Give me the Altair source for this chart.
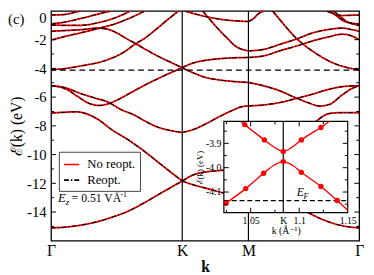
import altair as alt
import pandas as pd

FONT = "Liberation Serif, Tinos, Times New Roman, DejaVu Serif, serif"

# ---------------- main panel: path Γ-K-M-Γ (k, 1/Å) and energies (eV)
K_POS = 1.09
M_POS = 1.64
PATH_END = 2.56
X_TICK_POS = [0.0, K_POS, M_POS, PATH_END]
X_TICK_LABELS = ["Γ", "K", "M", "Γ"]
E_DOMAIN = [-16, 0]
Y_TICK_LABELED = [0, -2, -4, -6, -8, -10, -12, -14]
Y_TICK_MAJOR = [-2, -4, -6, -8, -10, -12, -14]
Y_TICK_MINOR = [-1, -3, -5, -7, -9, -11, -13, -15]
E_FERMI = -4.12
SERIES = ["No reopt.", "Reopt."]
PANEL_LABEL = "(c)"

# Γ-K segment
GK_LOW_K = [0, 0.12, 0.24, 0.38, 0.51, 0.65, 0.78, 0.93, 1.09]
GK_LOW_E = [-15.10, -15.05, -14.92, -14.68, -14.35, -13.9, -13.33, -12.6, -11.84]
GK_S7_K = [0, 0.1, 0.2, 0.28, 0.38, 0.51, 0.65, 0.78, 0.93, 1.09]
GK_S7_E = [-7.10, -7.06, -7.02, -7.12, -7.5, -8.3, -9.02, -9.8, -10.8, -11.84]
GK_S5A_K = [0, 0.12, 0.24, 0.36, 0.46, 0.59, 0.68, 0.78, 0.86, 0.98, 1.09]
GK_S5A_E = [-5.21, -5.35, -5.73, -6.05, -6.3, -6.9, -7.2, -7.66, -8.0, -8.3, -8.46]
GK_S5B_K = [0, 0.07, 0.13, 0.22, 0.32, 0.40, 0.46, 0.55, 0.65, 0.78, 0.93, 1.09]
GK_S5B_E = [-5.21, -5.28, -5.46, -5.95, -6.45, -6.58, -6.5, -6.2, -5.75, -5.16, -4.55, -3.95]
GK_A_K = [0, 0.1, 0.2, 0.3, 0.39, 0.5, 0.6, 0.7, 0.77, 0.87, 0.97, 1.06]
GK_A_E = [-4.08, -4.03, -3.9, -3.75, -3.6, -3.3, -2.9, -2.3, -1.95, -1.3, -0.6, 0]
GK_B_K = [0, 0.13, 0.26, 0.38, 0.46, 0.55, 0.62, 0.70, 0.8, 0.9, 1.0, 1.09]
GK_B_E = [-1.42, -1.36, -1.3, -1.2, -1.25, -1.55, -1.9, -2.26, -2.75, -3.2, -3.6, -3.95]
GK_T5_K = [0, 0.13, 0.26, 0.4, 0.55, 0.68, 0.78]
GK_T5_E = [-2.03, -1.75, -1.5, -1.2, -0.85, -0.4, 0]
GK_T1_K = [0, 0.08, 0.15, 0.21, 0.25]
GK_T1_E = [-0.28, -0.27, -0.19, -0.07, 0]
GK_T2_K = [0, 0.1, 0.25, 0.4, 0.5]
GK_T2_E = [-0.9, -0.8, -0.52, -0.2, 0]
GK_T3_K = [0, 0.1, 0.25, 0.4, 0.55, 0.66]
GK_T3_E = [-0.97, -1.0, -1.0, -0.8, -0.42, 0]

# K-M segment
KM_T1_K = [1.11, 1.2, 1.29, 1.37, 1.45, 1.55, 1.64]
KM_T1_E = [0, -0.22, -0.4, -0.53, -0.63, -0.7, -0.74]
KM_T2_K = [1.26, 1.32, 1.395, 1.47, 1.53, 1.59, 1.64]
KM_T2_E = [0, -0.6, -1.31, -1.95, -2.44, -2.68, -2.78]
KM_UP_K = [1.09, 1.15, 1.2, 1.29, 1.37, 1.5, 1.64]
KM_UP_E = [-3.95, -3.72, -3.58, -3.43, -3.35, -3.27, -3.24]
KM_DN_K = [1.09, 1.15, 1.2, 1.27, 1.37, 1.5, 1.64]
KM_DN_E = [-3.95, -4.2, -4.37, -4.6, -4.77, -4.9, -4.98]
KM_S8_K = [1.09, 1.2, 1.3, 1.4, 1.5, 1.58, 1.64]
KM_S8_E = [-8.46, -8.2, -7.8, -7.35, -6.95, -6.68, -6.61]
KM_S11_K = [1.09, 1.2, 1.37, 1.45, 1.55, 1.64]
KM_S11_E = [-11.84, -11.36, -11.13, -11.08, -11.05, -11.05]
KM_S12_K = [1.09, 1.2, 1.3, 1.4, 1.5, 1.64]
KM_S12_E = [-11.84, -12.15, -12.37, -12.6, -12.8, -12.9]

# M-Γ segment
MG_T0_K = [1.64, 1.68, 1.72, 1.77]
MG_T0_E = [-0.74, -0.55, -0.22, 0]
MG_A_K = [1.84, 1.9, 1.96, 2.02, 2.1, 2.2, 2.3, 2.4, 2.48, 2.56]
MG_A_E = [0, -0.6, -1.2, -1.75, -2.35, -2.95, -3.45, -3.8, -3.98, -4.08]
MG_P_K = [1.64, 1.77, 1.9, 2.04, 2.17, 2.3, 2.42, 2.5, 2.56]
MG_P_E = [-2.78, -2.67, -2.33, -1.95, -1.54, -1.3, -1.2, -1.3, -1.42]
MG_Q_K = [1.64, 1.77, 1.9, 2.04, 2.17, 2.31, 2.42, 2.5, 2.56]
MG_Q_E = [-3.24, -3.12, -2.78, -2.44, -2.1, -1.8, -1.62, -1.75, -2.0]
MG_T1_K = [2.29, 2.35, 2.42, 2.5, 2.56]
MG_T1_E = [0, -0.2, -0.32, -0.3, -0.28]
MG_T2_K = [2.32, 2.38, 2.43, 2.5, 2.56]
MG_T2_E = [0, -0.4, -0.7, -0.85, -0.9]
MG_T3_K = [2.35, 2.41, 2.47, 2.52, 2.56]
MG_T3_E = [0, -0.45, -0.8, -0.93, -0.97]
MG_C_K = [1.64, 1.76, 1.88, 2.04, 2.14, 2.23, 2.31, 2.42, 2.5, 2.56]
MG_C_E = [-4.98, -5.2, -5.5, -6.07, -6.4, -6.62, -6.52, -5.84, -5.4, -5.21]
MG_D_K = [1.64, 1.76, 1.88, 2.05, 2.17, 2.29, 2.42, 2.5, 2.56]
MG_D_E = [-6.61, -6.55, -6.41, -6.07, -5.8, -5.5, -5.27, -5.22, -5.21]
MG_S7_K = [1.64, 1.85, 2.0, 2.1, 2.207, 2.25, 2.289, 2.35, 2.42, 2.5, 2.56]
MG_S7_E = [-10.4, -9.8, -9.0, -8.3, -7.66, -7.38, -7.2, -7.1, -7.08, -7.08, -7.1]
MG_LOW_K = [1.64, 1.9, 2.1, 2.25, 2.35, 2.45, 2.56]
MG_LOW_E = [-12.9, -13.3, -13.9, -14.5, -14.8, -15.0, -15.1]

BANDS = [
    ("gk_low", GK_LOW_K, GK_LOW_E), ("gk_s7", GK_S7_K, GK_S7_E),
    ("gk_s5a", GK_S5A_K, GK_S5A_E), ("gk_s5b", GK_S5B_K, GK_S5B_E),
    ("gk_a", GK_A_K, GK_A_E), ("gk_b", GK_B_K, GK_B_E),
    ("gk_t5", GK_T5_K, GK_T5_E), ("gk_t1", GK_T1_K, GK_T1_E),
    ("gk_t2", GK_T2_K, GK_T2_E), ("gk_t3", GK_T3_K, GK_T3_E),
    ("km_t1", KM_T1_K, KM_T1_E), ("km_t2", KM_T2_K, KM_T2_E),
    ("km_up", KM_UP_K, KM_UP_E), ("km_dn", KM_DN_K, KM_DN_E),
    ("km_s8", KM_S8_K, KM_S8_E), ("km_s11", KM_S11_K, KM_S11_E),
    ("km_s12", KM_S12_K, KM_S12_E),
    ("mg_t0", MG_T0_K, MG_T0_E), ("mg_a", MG_A_K, MG_A_E),
    ("mg_p", MG_P_K, MG_P_E), ("mg_q", MG_Q_K, MG_Q_E),
    ("mg_t1", MG_T1_K, MG_T1_E), ("mg_t2", MG_T2_K, MG_T2_E),
    ("mg_t3", MG_T3_K, MG_T3_E), ("mg_c", MG_C_K, MG_C_E),
    ("mg_d", MG_D_K, MG_D_E), ("mg_s7", MG_S7_K, MG_S7_E),
    ("mg_low", MG_LOW_K, MG_LOW_E),
]

# annotation
EZ_K = 0.057
EZ_E = -13.33

# ---------------- inset
INSET_K_DOMAIN = [1.0224, 1.15]
INSET_E_DOMAIN = [-4.185, -3.81]
K_INSET = 1.0836
INSET_EF = -4.135
INSET_X_TICKS = [1.05, K_INSET, 1.1, 1.15]
INSET_Y_TICKS = [-3.9, -4.0, -4.1]
INSET_X_MAJOR = [1.05, 1.1]
INSET_X_MINOR = [1.025, 1.075, 1.125]
INSET_Y_MAJOR = [-3.9, -4.0, -4.1]
INSET_Y_MINOR = [-3.85, -3.95, -4.05, -4.15]
INSET_UP_K = [1.040, 1.0439, 1.054, 1.0641, 1.074, 1.0836, 1.093, 1.1022, 1.112, 1.1224, 1.1307]
INSET_UP_E = [-3.81, -3.823, -3.855, -3.886, -3.915, -3.933, -3.915, -3.886, -3.86, -3.835, -3.81]
INSET_LO_K = [1.0224, 1.0247, 1.0449, 1.0634, 1.074, 1.0836, 1.093, 1.1022, 1.1224, 1.1392, 1.15]
INSET_LO_E = [-4.153, -4.146, -4.086, -4.023, -3.99, -3.975, -3.99, -4.019, -4.077, -4.135, -4.175]
DOT_UP_K = [1.0439, 1.0641, 1.0836, 1.1022, 1.1224]
DOT_UP_E = [-3.823, -3.886, -3.933, -3.886, -3.835]
DOT_LO_K = [1.0247, 1.0449, 1.0634, 1.0836, 1.1022, 1.1224, 1.1392]
DOT_LO_E = [-4.146, -4.086, -4.023, -3.975, -4.019, -4.077, -4.135]
EF_LABEL_K = 1.0975
EF_LABEL_E = -4.118

# ================= build
rows = []
for name, ks, es in BANDS:
    for k, e in zip(ks, es):
        rows.append({"k": k, "E": e, "band": name})
band_df = pd.DataFrame(rows)
df_red = band_df.assign(series=SERIES[0])
df_blk = band_df.assign(series=SERIES[1])

mids = [(X_TICK_POS[i] + X_TICK_POS[i + 1]) / 2 for i in range(3)]
x_expr = (f"datum.value < {mids[0]} ? '{X_TICK_LABELS[0]}' : "
          f"datum.value < {mids[1]} ? '{X_TICK_LABELS[1]}' : "
          f"datum.value < {mids[2]} ? '{X_TICK_LABELS[2]}' : '{X_TICK_LABELS[3]}'")

xs = alt.Scale(domain=[0, PATH_END], nice=False, zero=False)
ys = alt.Scale(domain=E_DOMAIN, nice=False, zero=False)

x_axis = alt.Axis(values=X_TICK_POS, labelExpr=x_expr, ticks=False, domain=False, grid=False,
                  labelFont=FONT, labelFontSize=16, labelColor="black", labelPadding=2,
                  labelFlush=False, labelOverlap=False, title="k", titleFont=FONT,
                  titleFontSize=16, titleFontWeight="bold", titleColor="black", titlePadding=0)
y_axis = alt.Axis(values=Y_TICK_LABELED,
                  labelExpr="(datum.value < 0 ? '-' : '') + format(abs(datum.value), 'd')",
                  ticks=False, domain=False, grid=False, labelFont=FONT, labelFontSize=15,
                  labelColor="black", labelPadding=5, labelFlush=True, labelOverlap=False,
                  title="ℰ(k) (eV)", titleFont=FONT, titleFontSize=16, titleFontWeight="normal",
                  titleColor="black", titlePadding=2)


def X(f):
    return alt.X(f, type="quantitative", scale=xs, axis=x_axis)


def Y(f):
    return alt.Y(f, type="quantitative", scale=ys, axis=y_axis)


legend = alt.Legend(orient="none", legendX=8, legendY=144, title=None, symbolType="stroke",
                    symbolSize=240, symbolStrokeWidth=1.6, labelFont=FONT, labelFontSize=13,
                    labelColor="black", labelOffset=7, padding=4, rowPadding=0,
                    strokeColor="#444444", fillColor="white", cornerRadius=0)
color_scale = alt.Scale(domain=SERIES, range=["#ff0000", "#000000"])
dash_scale = alt.Scale(domain=SERIES, range=[[1, 0], [5, 2, 1.5, 2]])

red = alt.Chart(df_red).mark_line(strokeWidth=1.8, interpolate="monotone", clip=True).encode(
    x=X("k"), y=Y("E"), detail="band:N",
    color=alt.Color("series:N", scale=color_scale, legend=legend),
    strokeDash=alt.StrokeDash("series:N", scale=dash_scale, legend=legend))
blk = alt.Chart(df_blk).mark_line(strokeWidth=1.1, interpolate="monotone", clip=True).encode(
    x=X("k"), y=Y("E"), detail="band:N",
    color=alt.Color("series:N", scale=color_scale, legend=legend),
    strokeDash=alt.StrokeDash("series:N", scale=dash_scale, legend=legend))

sym_rules = alt.Chart(pd.DataFrame({"k": [K_POS, M_POS]})).mark_rule(
    color="black", strokeWidth=1.2).encode(x=X("k"))
ef_rule = alt.Chart(pd.DataFrame({"E": [E_FERMI]})).mark_rule(
    color="black", strokeWidth=1.3, strokeDash=[6, 4]).encode(y=Y("E"))


def main_ticks(vals, edge, off):
    d = pd.DataFrame({"E": vals, "k0": edge})
    return alt.Chart(d).mark_rule(color="black", strokeWidth=1, x2Offset=off).encode(
        x=X("k0"), x2="k0", y=Y("E"))


tick_layers = [main_ticks(Y_TICK_MAJOR, 0.0, 5), main_ticks(Y_TICK_MINOR, 0.0, 3),
               main_ticks(Y_TICK_MAJOR, PATH_END, -5), main_ticks(Y_TICK_MINOR, PATH_END, -3)]


def main_text(t, size, dx, dy, style="normal"):
    d = pd.DataFrame({"k": [EZ_K], "E": [EZ_E], "t": [t]})
    return alt.Chart(d).mark_text(align="left", baseline="alphabetic", font=FONT, fontSize=size,
                                  fontStyle=style, dx=dx, dy=dy, color="black").encode(
        x=X("k"), y=Y("E"), text="t:N")


ez_layers = [main_text("E", 13, 0, 0, "italic"), main_text("z", 9, 8, 3, "italic"),
             main_text("= 0.51 VÅ", 12, 14, 0), main_text("-1", 8, 64, -6)]

panel_label = alt.Chart(pd.DataFrame({"t": [PANEL_LABEL]})).mark_text(
    align="left", baseline="top", font=FONT, fontSize=15, color="black").encode(
    x=alt.value(-44), y=alt.value(1), text="t:N")

main = alt.layer(red, blk, sym_rules, ef_rule, *tick_layers, *ez_layers, panel_label)

# ---------------- inset layers
ix = alt.Scale(domain=INSET_K_DOMAIN, range=[176.7, 303.3], nice=False, zero=False)
iy = alt.Scale(domain=INSET_E_DOMAIN, range=[206.3, 113], nice=False, zero=False)
ix_axis = alt.Axis(orient="bottom", offset=-28.7, values=INSET_X_TICKS,
                   labelExpr=f"abs(datum.value - {K_INSET}) < 0.0005 ? 'K' : format(datum.value, '.3~f')",
                   ticks=False, domain=False, grid=False, labelFont=FONT, labelFontSize=10,
                   labelColor="black", labelPadding=3, labelFlush=False, labelOverlap=False,
                   title="k (Å⁻¹)", titleFont=FONT, titleFontSize=10, titleFontWeight="normal",
                   titleColor="black", titlePadding=0)
iy_axis = alt.Axis(orient="left", offset=-176.7, values=INSET_Y_TICKS,
                   labelExpr="(datum.value < 0 ? '-' : '') + format(abs(datum.value), '.1f')",
                   ticks=False, domain=False, grid=False, labelFont=FONT, labelFontSize=10,
                   labelColor="black", labelPadding=3, labelFlush=False, labelOverlap=False,
                   title="ℰ(k) (eV)", titleFont=FONT, titleFontSize=9, titleFontWeight="normal",
                   titleColor="black", titlePadding=1)


def IX(f):
    return alt.X(f, type="quantitative", scale=ix, axis=ix_axis)


def IY(f):
    return alt.Y(f, type="quantitative", scale=iy, axis=iy_axis)


ibg = alt.Chart(pd.DataFrame({"ik": [INSET_K_DOMAIN[0]], "ik2": [INSET_K_DOMAIN[1]],
                              "iE": [INSET_E_DOMAIN[0]], "iE2": [INSET_E_DOMAIN[1]]})).mark_rect(
    fill="white", stroke="black", strokeWidth=1.2).encode(x=IX("ik"), x2="ik2", y=IY("iE"), y2="iE2")

irows = []
for name, ks, es in [("up", INSET_UP_K, INSET_UP_E), ("lo", INSET_LO_K, INSET_LO_E)]:
    for k, e in zip(ks, es):
        irows.append({"ik": k, "iE": e, "band": name})
iline = alt.Chart(pd.DataFrame(irows)).mark_line(color="#ff0000", strokeWidth=1.4,
                                                 interpolate="monotone").encode(
    x=IX("ik"), y=IY("iE"), detail="band:N")
idots = alt.Chart(pd.DataFrame({"ik": DOT_UP_K + DOT_LO_K, "iE": DOT_UP_E + DOT_LO_E})).mark_circle(
    color="#ff0000", size=30, opacity=1).encode(x=IX("ik"), y=IY("iE"))
ik_rule = alt.Chart(pd.DataFrame({"ik": [K_INSET], "iE": [INSET_E_DOMAIN[0]],
                                  "iE2": [INSET_E_DOMAIN[1]]})).mark_rule(
    color="black", strokeWidth=1.2).encode(x=IX("ik"), y=IY("iE"), y2="iE2")
ief_rule = alt.Chart(pd.DataFrame({"ik": [INSET_K_DOMAIN[0]], "ik2": [INSET_K_DOMAIN[1]],
                                   "iE": [INSET_EF]})).mark_rule(
    color="black", strokeWidth=1.3, strokeDash=[5, 3]).encode(x=IX("ik"), x2="ik2", y=IY("iE"))


def inset_text(t, size, dx, dy, style):
    d = pd.DataFrame({"ik": [EF_LABEL_K], "iE": [EF_LABEL_E], "t": [t]})
    return alt.Chart(d).mark_text(align="left", baseline="alphabetic", font=FONT, fontSize=size,
                                  fontStyle=style, dx=dx, dy=dy, color="black").encode(
        x=IX("ik"), y=IY("iE"), text="t:N")


def iy_ticks(vals, edge, off):
    d = pd.DataFrame({"iE": vals, "ik": edge})
    return alt.Chart(d).mark_rule(color="black", strokeWidth=1, x2Offset=off).encode(
        x=IX("ik"), x2="ik", y=IY("iE"))


def ix_ticks(vals, edge, off):
    d = pd.DataFrame({"ik": vals, "iE": edge})
    return alt.Chart(d).mark_rule(color="black", strokeWidth=1, y2Offset=off).encode(
        x=IX("ik"), y=IY("iE"), y2="iE")


itick_layers = [
    iy_ticks(INSET_Y_MAJOR, INSET_K_DOMAIN[0], 5), iy_ticks(INSET_Y_MINOR, INSET_K_DOMAIN[0], 3),
    iy_ticks(INSET_Y_MAJOR, INSET_K_DOMAIN[1], -5), iy_ticks(INSET_Y_MINOR, INSET_K_DOMAIN[1], -3),
    ix_ticks(INSET_X_MAJOR, INSET_E_DOMAIN[0], -5), ix_ticks(INSET_X_MINOR, INSET_E_DOMAIN[0], -3),
    ix_ticks(INSET_X_MAJOR, INSET_E_DOMAIN[1], 5), ix_ticks(INSET_X_MINOR, INSET_E_DOMAIN[1], 3),
]

inset = alt.layer(ibg, ief_rule, ik_rule, iline, idots, *itick_layers,
                  inset_text("E", 12, 0, 0, "italic"), inset_text("F", 8, 7, 3, "italic"))

chart = alt.layer(main, inset).resolve_scale(x="independent", y="independent").properties(
    width=315, height=235,
    autosize=alt.AutoSizeParams(type="none"),
    padding={"left": 44, "top": 0, "right": 7, "bottom": 32},
).configure_view(stroke="black", strokeWidth=1.3)

chart.save("out.html", embed_options={"renderer": "svg", "actions": False})
